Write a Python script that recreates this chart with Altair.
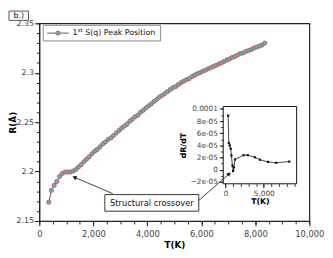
import json
import altair as alt
import pandas as pd

# ---------------- data ----------------
T_MAIN = [350, 450, 550, 650, 750, 850, 950, 1050, 1150, 1250, 1350, 1450, 1550, 1650, 1750,
          1850, 1950, 2050, 2150, 2250, 2350, 2450, 2550, 2650, 2750, 2850, 2950, 3050, 3150,
          3250, 3350, 3450, 3550, 3650, 3750, 3850, 3950, 4050, 4150, 4250, 4350, 4450, 4550,
          4650, 4750, 4850, 4950, 5050, 5150, 5250, 5350, 5450, 5550, 5650, 5750, 5850, 5950,
          6050, 6150, 6250, 6350, 6450, 6550, 6650, 6750, 6850, 6950, 7050, 7150, 7250, 7350,
          7450, 7550, 7650, 7750, 7850, 7950, 8050, 8150, 8250, 8350]
R_MAIN = [2.169, 2.181, 2.186, 2.190, 2.195, 2.198, 2.1995, 2.1995, 2.1995, 2.2005, 2.2020,
          2.2045, 2.2070, 2.2100, 2.2125, 2.2150, 2.2180, 2.2205, 2.2225, 2.2250, 2.2280,
          2.2300, 2.2325, 2.2340, 2.2365, 2.2390, 2.2415, 2.2440, 2.2460, 2.2480, 2.2510,
          2.2530, 2.2555, 2.2570, 2.2600, 2.2620, 2.2645, 2.2665, 2.2685, 2.2710, 2.2730,
          2.2755, 2.2770, 2.2790, 2.2810, 2.2830, 2.2850, 2.2860, 2.2880, 2.2900, 2.2915,
          2.2930, 2.2940, 2.2960, 2.2975, 2.2990, 2.3000, 2.3015, 2.3025, 2.3040, 2.3050,
          2.3065, 2.3075, 2.3090, 2.3100, 2.3115, 2.3130, 2.3140, 2.3155, 2.3165, 2.3180,
          2.3195, 2.3200, 2.3215, 2.3225, 2.3235, 2.3250, 2.3260, 2.3270, 2.3280, 2.3300]

T_INSET = [340, 430, 550, 680, 770, 900, 990, 1100, 1240, 2350, 2900, 3850, 4500, 5550, 6630, 8330]
DRDT_INSET = [8.9e-5, 4.4e-5, 4.0e-5, 3.45e-5, 2.35e-5, 0.7e-5, -0.2e-5, 0.4e-5, 1.7e-5,
              2.4e-5, 2.4e-5, 2.05e-5, 1.65e-5, 1.3e-5, 1.15e-5, 1.35e-5]

X_MAJOR = [0, 2000, 4000, 6000, 8000, 10000]
X_MINOR = [0, 500, 1000, 1500, 2000, 2500, 3000, 3500, 4000, 4500, 5000, 5500, 6000, 6500,
           7000, 7500, 8000, 8500, 9000, 9500, 10000]
Y_MAJOR = [2.15, 2.2, 2.25, 2.3, 2.35]
Y_MINOR = [2.15, 2.16, 2.17, 2.18, 2.19, 2.2, 2.21, 2.22, 2.23, 2.24, 2.25, 2.26, 2.27, 2.28,
           2.29, 2.3, 2.31, 2.32, 2.33, 2.34, 2.35]
IX_MAJOR = [0, 5000]
IX_MINOR = [0, 1000, 2000, 3000, 4000, 5000, 6000, 7000, 8000, 9000]
IY_MAJOR = [-0.00002, 0, 0.00002, 0.00004, 0.00006, 0.00008, 0.0001]
IY_LABELS = ["\u22122e-05", "0", "2e-05", "4e-05", "6e-05", "8e-05", "0.0001"]
IY_MINOR = [-0.00002, -0.00001, 0, 0.00001, 0.00002, 0.00003, 0.00004, 0.00005, 0.00006,
            0.00007, 0.00008, 0.00009, 0.0001]

FONT = "DejaVu Sans"
LABEL_COLOR = "#444444"
AX = "#222222"

# ---------------- scales ----------------
X_DOM = [0, 10000]
Y_DOM = [2.15, 2.35]
IX_DOM = [-300, 9300]
IY_DOM = [-2.3e-5, 1.04e-4]


def xs():
    return alt.Scale(domain=X_DOM, nice=False, zero=False)


def ys():
    return alt.Scale(domain=Y_DOM, nice=False, zero=False)


def ixs():
    return alt.Scale(domain=IX_DOM, range=[188, 263], nice=False, zero=False)


def iys():
    return alt.Scale(domain=IY_DOM, range=[164, 85], nice=False, zero=False)


x_axis = alt.Axis(
    orient="bottom", values=X_MAJOR, grid=False, labelFlush=False, labelOverlap=False,
    labelExpr="format(datum.value, ',')", tickSize=5,
    title="T(K)", titleFontWeight="bold", titleFontSize=9, titlePadding=2.5,
    labelFontSize=8.5, labelColor=LABEL_COLOR, labelPadding=4,
    domainColor=AX, tickColor=AX,
)
y_axis = alt.Axis(
    orient="left", values=Y_MAJOR, grid=False, labelFlush=False, labelOverlap=False,
    labelExpr="format(datum.value, '~g')", tickSize=5,
    title="R(\u00c5)", titleFontWeight="bold", titleFontSize=9, titleX=-27,
    titleBaseline="middle",
    labelFontSize=8, labelColor=LABEL_COLOR, labelPadding=1,
    domainColor=AX, tickColor=AX,
)
x_minor_axis = alt.Axis(orient="bottom", values=X_MINOR, grid=False, labels=False, domain=False,
                        tickSize=3, title=None, tickColor=AX)
y_minor_axis = alt.Axis(orient="left", values=Y_MINOR, grid=False, labels=False, domain=False,
                        tickSize=3, title=None, tickColor=AX)

ix_axis = alt.Axis(
    orient="bottom", offset=-38, values=IX_MAJOR, grid=False, domain=False,
    labelFlush=False, labelOverlap=False, labelExpr="format(datum.value, ',')", tickSize=4,
    title="T(K)", titleFontWeight="bold", titleFontSize=8, titlePadding=1,
    labelFontSize=7.5, labelColor=LABEL_COLOR, labelPadding=2, tickColor=AX,
)
iy_axis = alt.Axis(
    orient="left", offset=-188, values=IY_MAJOR, grid=False, domain=False,
    labelFlush=False, labelOverlap=False,
    labelExpr=json.dumps(IY_LABELS, ensure_ascii=False) + "[round(datum.value*50000)+1]",
    tickSize=4,
    title="dR/dT", titleFontWeight="bold", titleFontSize=8, titlePadding=3,
    labelFontSize=7.5, labelColor=LABEL_COLOR, labelPadding=2, tickColor=AX,
)
ix_minor_axis = alt.Axis(orient="bottom", offset=-38, values=IX_MINOR, grid=False, labels=False,
                         domain=False, tickSize=2.5, title=None, tickColor=AX)
iy_minor_axis = alt.Axis(orient="left", offset=-188, values=IY_MINOR, grid=False, labels=False,
                         domain=False, tickSize=2.5, title=None, tickColor=AX)


def MX(f, axis=None):
    return alt.X(f, scale=xs(), axis=axis)


def MY(f, axis=None):
    return alt.Y(f, scale=ys(), axis=axis)


def IX(f, axis=None):
    return alt.X(f, scale=ixs(), axis=axis)


def IY(f, axis=None):
    return alt.Y(f, scale=iys(), axis=axis)


# ---------------- main series ----------------
main_df = pd.DataFrame({"T": T_MAIN, "R": R_MAIN})
main_line = alt.Chart(main_df).mark_line(color="#333333", strokeWidth=0.8).encode(
    x=MX("T:Q", x_axis), y=MY("R:Q", y_axis),
)
main_pts = alt.Chart(main_df).mark_point(
    shape="circle", filled=True, fill="#5ab8bc", stroke="#c8504a",
    strokeWidth=0.9, size=18, opacity=1,
).encode(x=MX("T:Q"), y=MY("R:Q"))

main_minor = alt.Chart(pd.DataFrame({"x": [X_DOM[0]], "y": [Y_DOM[0]]})).mark_point(opacity=0).encode(
    x=MX("x:Q", x_minor_axis), y=MY("y:Q", y_minor_axis),
)

# ---------------- inset ----------------
inset_df = pd.DataFrame({"T": T_INSET, "D": DRDT_INSET})
iframe = alt.Chart(pd.DataFrame({"x": [IX_DOM[0]], "x2": [IX_DOM[1]],
                                 "y": [IY_DOM[0]], "y2": [IY_DOM[1]]})).mark_rect(
    fill="white", stroke="#111111", strokeWidth=1
).encode(x=IX("x:Q", ix_axis), x2="x2:Q", y=IY("y:Q", iy_axis), y2="y2:Q")
iline = alt.Chart(inset_df).mark_line(color="#111111", strokeWidth=0.8).encode(
    x=IX("T:Q"), y=IY("D:Q"),
)
ipts = alt.Chart(inset_df).mark_point(shape="square", filled=True, color="#111111", size=5, opacity=1).encode(
    x=IX("T:Q"), y=IY("D:Q"),
)
inset_minor = alt.Chart(pd.DataFrame({"x": [0], "y": [0]})).mark_point(opacity=0).encode(
    x=IX("x:Q", ix_minor_axis), y=IY("y:Q", iy_minor_axis),
)

# ---------------- annotations (in main data coordinates) ----------------
boxes_df = pd.DataFrame({
    "x": [-1123, 145, 2428], "x2": [-400, 4493, 5906],
    "y": [2.3530, 2.3322, 2.1599], "y2": [2.3624, 2.3480, 2.1767],
    "stroke": ["#555555", "#888888", "#333333"],
})
boxes = alt.Chart(boxes_df).mark_rect(fill="white", strokeWidth=1).encode(
    x=MX("x:Q"), x2="x2:Q", y=MY("y:Q"), y2="y2:Q",
    stroke=alt.Stroke("stroke:N", scale=None),
)
texts_df = pd.DataFrame({
    "x": [-762, 4167],
    "y": [2.3578, 2.1683],
    "t": ["b.)", "Structural crossover"],
    "s": [8, 8.5],
})
texts = alt.Chart(texts_df).mark_text(font=FONT, color="#111111", align="center", baseline="middle").encode(
    x=MX("x:Q"), y=MY("y:Q"), text="t:N", size=alt.Size("s:Q", scale=None, legend=None),
)
leg_rule = alt.Chart(pd.DataFrame({"x": [290], "x2": [1087], "y": [2.3401]})).mark_rule(color="#333333", strokeWidth=0.8).encode(
    x=MX("x:Q"), x2="x2:Q", y=MY("y:Q"),
)
leg_pt = alt.Chart(pd.DataFrame({"x": [688], "y": [2.3401]})).mark_point(
    shape="circle", filled=True, fill="#5ab8bc", stroke="#c8504a", strokeWidth=0.9, size=18, opacity=1,
).encode(x=MX("x:Q"), y=MY("y:Q"))
leg_main = alt.Chart(pd.DataFrame({"x": [1232, 1700], "y": [2.3401, 2.3401], "t": ["1", "S(q) Peak Position"]})).mark_text(
    font=FONT, fontSize=8, color="#111111", align="left", baseline="middle"
).encode(x=MX("x:Q"), y=MY("y:Q"), text="t:N")
leg_sup = alt.Chart(pd.DataFrame({"x": [1420], "y": [2.3430], "t": ["st"]})).mark_text(
    font=FONT, fontSize=5.5, color="#111111", align="left", baseline="middle"
).encode(x=MX("x:Q"), y=MY("y:Q"), text="t:N")
arrows_df = pd.DataFrame({
    "x": [2717, 5906], "y": [2.1777, 2.1708],
    "x2": [1268, 7065], "y2": [2.1946, 2.1985],
})
arrow_lines = alt.Chart(arrows_df).mark_rule(color="#111111", strokeWidth=0.8).encode(
    x=MX("x:Q"), y=MY("y:Q"), x2="x2:Q", y2="y2:Q",
)
head1 = alt.Chart(pd.DataFrame({"x": [1300], "y": [2.1942]})).mark_point(
    shape="triangle-up", filled=True, color="#111111", size=22, angle=293, opacity=1
).encode(x=MX("x:Q"), y=MY("y:Q"))
head2 = alt.Chart(pd.DataFrame({"x": [7030], "y": [2.1977]})).mark_point(
    shape="triangle-up", filled=True, color="#111111", size=22, angle=49, opacity=1
).encode(x=MX("x:Q"), y=MY("y:Q"))

chart = alt.layer(
    main_line, main_pts, main_minor,
    iframe, iline, ipts, inset_minor,
    boxes, texts, leg_rule, leg_pt, leg_main, leg_sup, arrow_lines, head1, head2,
).resolve_scale(
    x="independent", y="independent"
).properties(
    width=276, height=202,
    autosize=alt.AutoSizeParams(type="none"),
    padding={"left": 32, "top": 13, "right": 16, "bottom": 27},
).configure(font=FONT).configure_view(stroke=AX, strokeWidth=1.2)

chart.save("out.html", embed_options={"renderer": "svg", "actions": False})
